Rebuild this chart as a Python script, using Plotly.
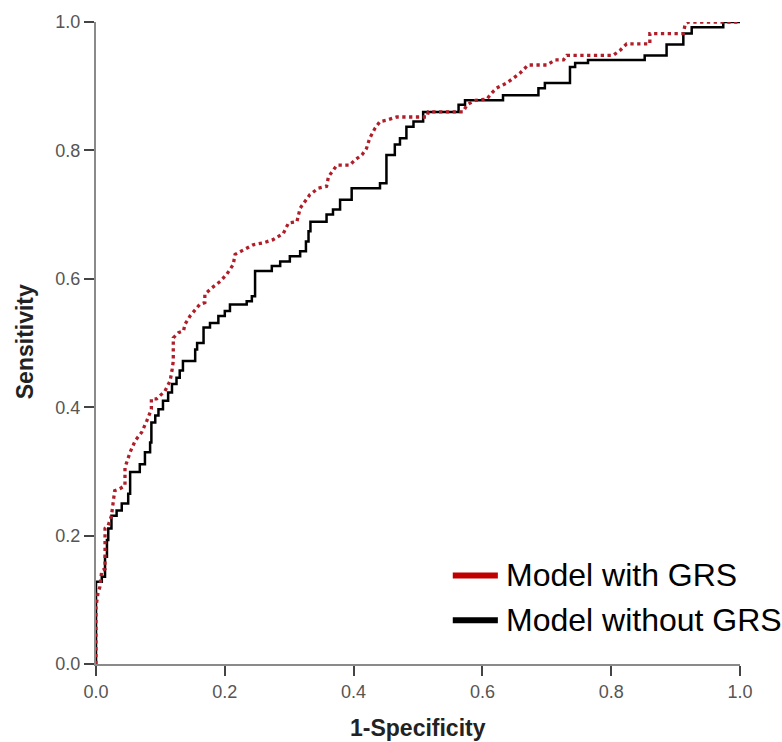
import plotly.graph_objects as go

# ROC curve, model without GRS (step curve: x = FPR where next rise occurs, y = TPR level)
fpr_without = [0.0, 0.009, 0.014, 0.017, 0.019, 0.024, 0.032, 0.040, 0.050, 0.053,
               0.068, 0.076, 0.084, 0.086, 0.092, 0.097, 0.104, 0.112, 0.118, 0.125,
               0.130, 0.135, 0.154, 0.157, 0.167, 0.177, 0.190, 0.200, 0.208, 0.234,
               0.242, 0.247, 0.273, 0.286, 0.301, 0.317, 0.326, 0.330, 0.333, 0.358,
               0.368, 0.379, 0.397, 0.441, 0.451, 0.464, 0.472, 0.482, 0.493, 0.508,
               0.563, 0.573, 0.632, 0.687, 0.697, 0.736, 0.744, 0.764, 0.852, 0.886,
               0.912, 0.925, 0.974, 1.0]
tpr_without = [0.0, 0.128, 0.136, 0.167, 0.193, 0.211, 0.231, 0.239, 0.250, 0.265,
               0.299, 0.311, 0.330, 0.345, 0.376, 0.387, 0.397, 0.410, 0.423, 0.436,
               0.446, 0.457, 0.472, 0.490, 0.500, 0.524, 0.531, 0.542, 0.550, 0.560,
               0.565, 0.573, 0.612, 0.620, 0.627, 0.635, 0.643, 0.658, 0.674, 0.689,
               0.700, 0.708, 0.723, 0.741, 0.749, 0.793, 0.809, 0.819, 0.837, 0.845,
               0.860, 0.871, 0.878, 0.886, 0.897, 0.905, 0.930, 0.936, 0.941, 0.948,
               0.965, 0.982, 0.992, 1.0]

# ROC curve, model with GRS
fpr_with = [0.0, 0.0, 0.003, 0.006, 0.009, 0.014, 0.014, 0.019, 0.024, 0.027,
            0.029, 0.037, 0.045, 0.045, 0.053, 0.061, 0.071, 0.079, 0.086, 0.086,
            0.094, 0.107, 0.115, 0.118, 0.120, 0.120, 0.128, 0.136, 0.138, 0.146,
            0.154, 0.161, 0.169, 0.169, 0.180, 0.193, 0.203, 0.213, 0.216, 0.229,
            0.244, 0.260, 0.275, 0.291, 0.299, 0.312, 0.317, 0.332, 0.345, 0.358,
            0.361, 0.374, 0.394, 0.402, 0.413, 0.420, 0.425, 0.433, 0.441, 0.451,
            0.467, 0.514, 0.516, 0.570, 0.576, 0.589, 0.607, 0.614, 0.622, 0.638,
            0.648, 0.658, 0.671, 0.700, 0.713, 0.726, 0.731, 0.803, 0.814, 0.824,
            0.860, 0.860, 0.912, 0.915, 0.920, 1.0]
tpr_with = [0.0, 0.089, 0.110, 0.120, 0.146, 0.148, 0.211, 0.216, 0.231, 0.257,
            0.270, 0.273, 0.278, 0.306, 0.330, 0.348, 0.361, 0.379, 0.397, 0.413,
            0.413, 0.425, 0.441, 0.457, 0.472, 0.508, 0.516, 0.519, 0.529, 0.542,
            0.552, 0.560, 0.563, 0.576, 0.586, 0.596, 0.607, 0.622, 0.638, 0.645,
            0.653, 0.656, 0.661, 0.671, 0.687, 0.689, 0.710, 0.731, 0.741, 0.744,
            0.759, 0.777, 0.777, 0.785, 0.793, 0.803, 0.819, 0.834, 0.845, 0.847,
            0.852, 0.852, 0.860, 0.860, 0.871, 0.878, 0.880, 0.889, 0.897, 0.905,
            0.912, 0.920, 0.933, 0.933, 0.941, 0.941, 0.948, 0.948, 0.956, 0.966,
            0.966, 0.982, 0.982, 0.997, 1.0, 1.0]

tick_vals = [0.0, 0.2, 0.4, 0.6, 0.8, 1.0]
tick_text = ["0.0", "0.2", "0.4", "0.6", "0.8", "1.0"]
series_names = ["Model with GRS", "Model without GRS"]

RED_DOT = "#b01e2a"
RED_KEY = "#c00000"
BLACK = "#000000"
FONT = "Liberation Sans, Arial, sans-serif"

fig = go.Figure()

fig.add_trace(go.Scatter(
    x=fpr_without, y=tpr_without, mode="lines", name=series_names[1],
    line=dict(color=BLACK, width=2.5, shape="vh"),
    cliponaxis=False, showlegend=False,
))
fig.add_trace(go.Scatter(
    x=fpr_with, y=tpr_with, mode="lines", name=series_names[0],
    line=dict(color=RED_DOT, width=3.3, dash="3.3px,3.5px"),
    cliponaxis=False, showlegend=False,
))

axis_common = dict(
    range=[0, 1], showgrid=False, zeroline=False,
    showline=True, linecolor="#8a8a8a", linewidth=2,
    ticks="outside", ticklen=10, tickwidth=2, tickcolor="#444444",
    tickvals=tick_vals, ticktext=tick_text,
    tickfont=dict(family=FONT, size=18, color="#555555"),
)

fig.update_layout(
    width=782, height=742,
    margin=dict(l=96, r=42, t=20, b=78),
    paper_bgcolor="white", plot_bgcolor="white",
    xaxis=axis_common,
    yaxis=axis_common,
    showlegend=False,
)

# Axis titles
fig.add_annotation(
    text="<b>1-Specificity</b>", xref="paper", yref="paper",
    x=0.5, y=-0.099, xanchor="center", yanchor="middle", showarrow=False,
    font=dict(family=FONT, size=23, color="#222222"),
)
fig.add_annotation(
    text="<b>Sensitivity</b>", xref="paper", yref="paper",
    x=-0.111, y=0.502, xanchor="center", yanchor="middle", showarrow=False,
    textangle=-90, font=dict(family=FONT, size=23, color="#222222"),
)

# Key: coloured bars with labels
key_rows = [(series_names[0], RED_KEY, 0.138), (series_names[1], BLACK, 0.0683)]
for label, color, ypos in key_rows:
    fig.add_shape(
        type="line", xref="paper", yref="paper",
        x0=0.554, x1=0.624, y0=ypos, y1=ypos,
        line=dict(color=color, width=6),
    )
    fig.add_annotation(
        text=label, xref="paper", yref="paper",
        x=0.634, y=ypos, xanchor="left", yanchor="middle", showarrow=False,
        font=dict(family=FONT, size=32, color="#000000"),
    )

fig.write_html("out.html")
